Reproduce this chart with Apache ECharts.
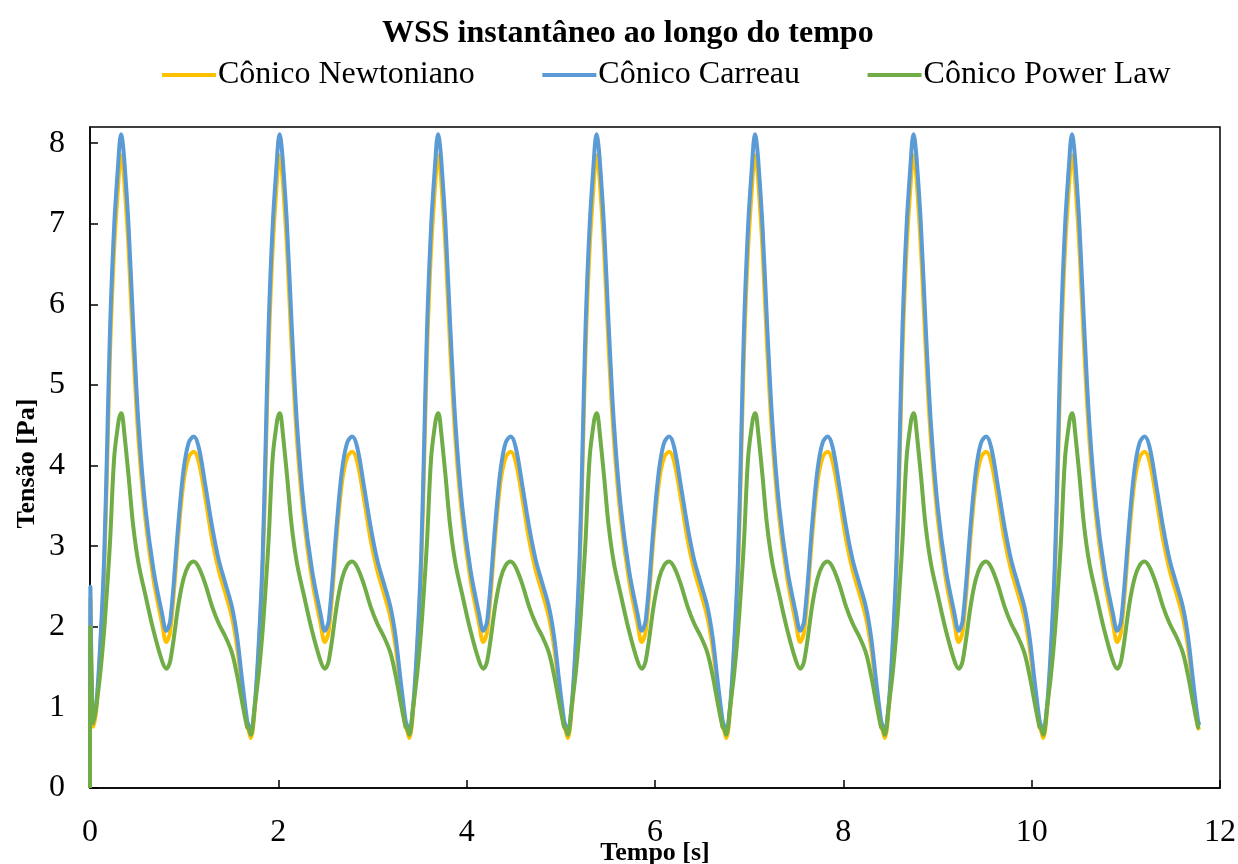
<!DOCTYPE html>
<html>
<head>
<meta charset="utf-8">
<script src="https://cdn.jsdelivr.net/npm/echarts@6/dist/echarts.min.js"></script>
<style>
  html, body { margin: 0; padding: 0; background: #fff; }
  #chart { width: 1238px; height: 864px; }
</style>
</head>
<body>
<div id="chart"></div>
<script>
// Wall shear stress over seven cardiac cycles, three blood models.
const seriesNames = ['Cônico Newtoniano', 'Cônico Carreau', 'Cônico Power Law'];
const seriesColors = ['#FFC000', '#5B9BD5', '#70AD47'];

// One cycle (s), sampled from its start.
const cyclePeriod = 1.683;
const cycleCount = 7;
const cycleTime = [0, 0.025, 0.065, 0.107, 0.15, 0.186, 0.214, 0.257, 0.303, 0.317,
  0.331, 0.345, 0.363, 0.409, 0.459, 0.516, 0.587, 0.675, 0.764, 0.81,
  0.853, 0.941, 0.994, 1.047, 1.101, 1.154, 1.227, 1.297, 1.367, 1.437,
  1.507, 1.562, 1.615, 1.668];

// Stress within one cycle (Pa).
const newtonianoCycle = [0.72, 0.62, 0.95, 1.68, 2.70, 4.20, 5.45, 6.70, 7.55, 7.77,
  7.85, 7.77, 7.55, 6.70, 5.45, 4.30, 3.35, 2.58, 2.05, 1.81,
  1.95, 3.18, 3.80, 4.10, 4.17, 4.05, 3.58, 3.08, 2.70, 2.42,
  2.12, 1.75, 1.25, 0.76];
const carreauCycle = [0.78, 0.70, 1.01, 1.75, 2.85, 4.45, 5.74, 6.98, 7.81, 8.03,
  8.11, 8.03, 7.81, 6.98, 5.74, 4.50, 3.49, 2.70, 2.17, 1.95,
  2.08, 3.32, 3.95, 4.28, 4.36, 4.23, 3.74, 3.24, 2.83, 2.54,
  2.25, 1.88, 1.34, 0.84];
const powerLawCycle = [0.74, 0.66, 1.00, 1.40, 1.95, 2.55, 3.08, 4.10, 4.55, 4.62,
  4.65, 4.61, 4.42, 3.88, 3.25, 2.78, 2.40, 1.95, 1.58, 1.48,
  1.58, 2.29, 2.60, 2.76, 2.81, 2.74, 2.52, 2.25, 2.04, 1.88,
  1.68, 1.40, 1.07, 0.76];

// Start-up transient of the first cycle.
const startTime = [0, 0.004, 0.035];
const newtonianoStart = [0, 2.35, 0.76];
const carreauStart = [0, 2.50, 0.85];
const powerLawStart = [0, 2.00, 0.80];

// Axis ticks.
const xTicks = { min: 0, max: 12, interval: 2 };
const yTicks = { min: 0, max: 8.2, interval: 1 };

function buildSeries(startVals, cycleVals) {
  const pts = startTime.map((t, i) => [t, startVals[i]]);
  for (let k = 0; k < cycleCount; k++) {
    cycleTime.forEach((tau, i) => {
      if (k === 0 && tau < 0.05) return;
      pts.push([+(k * cyclePeriod + tau).toFixed(4), cycleVals[i]]);
    });
  }
  pts.push([+(cycleCount * cyclePeriod).toFixed(4), cycleVals[0]]);
  return pts;
}

const seriesData = [
  buildSeries(newtonianoStart, newtonianoCycle),
  buildSeries(carreauStart, carreauCycle),
  buildSeries(powerLawStart, powerLawCycle)
];

const serif = '"Liberation Serif", "Times New Roman", serif';
const chart = echarts.init(document.getElementById('chart'), null, { renderer: 'canvas' });

chart.setOption({
  animation: false,
  backgroundColor: '#fff',
  title: {
    text: 'WSS instantâneo ao longo do tempo',
    left: 377,
    top: 13,
    textStyle: { fontFamily: serif, fontSize: 32, fontWeight: 'bold', color: '#000' }
  },
  legend: {
    top: 54,
    left: 157,
    itemWidth: 54,
    itemHeight: 4,
    itemGap: 67.5,
    icon: 'rect',
    textStyle: { fontFamily: serif, fontSize: 32, color: '#000', padding: [0, 0, 0, -3] },
    data: seriesNames
  },
  grid: {
    left: 90, right: 18, top: 127, bottom: 76,
    outerBoundsMode: 'none',
    show: true, borderColor: '#000', borderWidth: 1.5
  },
  xAxis: {
    type: 'value',
    min: xTicks.min, max: xTicks.max, interval: xTicks.interval,
    name: 'Tempo [s]',
    nameLocation: 'middle',
    nameGap: 52,
    nameMoveOverlap: false,
    nameTextStyle: { fontFamily: serif, fontSize: 26, fontWeight: 'bold', color: '#000' },
    axisLine: { lineStyle: { color: '#000', width: 1.5 } },
    axisTick: { inside: true, length: 8, lineStyle: { color: '#000', width: 1.5 } },
    axisLabel: { fontFamily: serif, fontSize: 32, color: '#000', margin: 29 },
    splitLine: { show: false }
  },
  yAxis: {
    type: 'value',
    min: yTicks.min, max: yTicks.max, interval: yTicks.interval,
    name: 'Tensão [Pa]',
    nameLocation: 'middle',
    nameGap: 50,
    nameMoveOverlap: false,
    nameTextStyle: { fontFamily: serif, fontSize: 26, fontWeight: 'bold', color: '#000', padding: [0, 12, 0, 0] },
    axisLine: { show: true, lineStyle: { color: '#000', width: 1.5 } },
    axisTick: { show: true, inside: true, length: 8, lineStyle: { color: '#000', width: 1.5 } },
    axisLabel: {
      fontFamily: serif, fontSize: 32, color: '#000', margin: 25,
      showMaxLabel: false,
      formatter: v => (Number.isInteger(v) ? String(v) : '')
    },
    splitLine: { show: false }
  },
  series: seriesNames.map((name, i) => ({
    name: name,
    type: 'line',
    data: seriesData[i],
    smooth: 0.35,
    showSymbol: false,
    symbol: 'none',
    color: seriesColors[i],
    lineStyle: { color: seriesColors[i], width: 4 },
    z: 2 + i
  }))
});
</script>
</body>
</html>
